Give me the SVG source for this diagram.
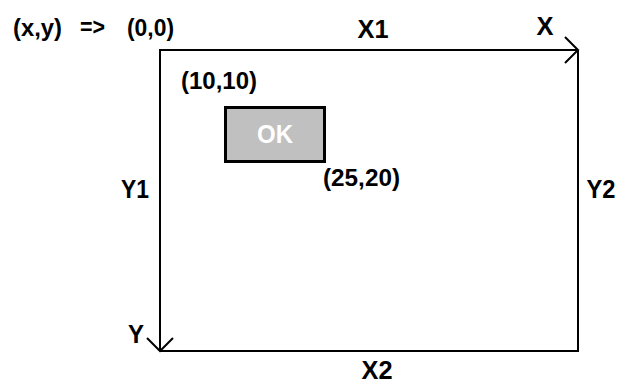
<svg xmlns="http://www.w3.org/2000/svg" width="621" height="382" viewBox="0 0 621 382">
<style>
.t{font-family:"Liberation Sans",Arial,sans-serif;font-weight:bold;font-size:23px;fill:#000}
.ax{font-size:26px}
.ln{stroke:#000;stroke-width:2;fill:none}
</style>
<defs>
<marker id="arr" markerUnits="userSpaceOnUse" viewBox="0 0 16 30" refX="14" refY="14" markerWidth="16" markerHeight="30" orient="auto">
<path d="M1,1 L14,14 L1,27" fill="none" stroke="#000" stroke-width="2"/>
</marker>
</defs>
<rect width="621" height="382" fill="#fff"/>
<g id="connectors">
<line class="ln" x1="578" y1="50" x2="578" y2="351"/>
<line class="ln" x1="160" y1="351" x2="579" y2="351"/>
<line class="ln" x1="159" y1="50" x2="578" y2="50" marker-end="url(#arr)"/>
<line class="ln" x1="160" y1="50" x2="160" y2="351" marker-end="url(#arr)"/>
</g>
<g id="ok-button">
<rect x="225.5" y="107.5" width="99" height="54" fill="#c0c0c0" stroke="#000" stroke-width="3"/>
<text class="t" x="275" y="143" text-anchor="middle" textLength="36" lengthAdjust="spacingAndGlyphs" style="fill:#fff;font-size:25px">OK</text>
</g>
<g id="labels">
<text class="t" x="13" y="36" textLength="49" lengthAdjust="spacingAndGlyphs">(x,y)</text>
<text class="t" x="80" y="35" textLength="25" lengthAdjust="spacingAndGlyphs">=&gt;</text>
<text class="t" x="127" y="36" textLength="47" lengthAdjust="spacingAndGlyphs">(0,0)</text>
<text class="t ax" x="373" y="38" text-anchor="middle" textLength="31" lengthAdjust="spacingAndGlyphs">X1</text>
<text class="t ax" x="545" y="35" text-anchor="middle" textLength="17" lengthAdjust="spacingAndGlyphs">X</text>
<text class="t" x="181" y="89" textLength="76" lengthAdjust="spacingAndGlyphs">(10,10)</text>
<text class="t" x="323" y="186" textLength="77" lengthAdjust="spacingAndGlyphs">(25,20)</text>
<text class="t ax" x="135" y="198" text-anchor="middle" textLength="28" lengthAdjust="spacingAndGlyphs">Y1</text>
<text class="t ax" x="601" y="198" text-anchor="middle" textLength="29" lengthAdjust="spacingAndGlyphs">Y2</text>
<text class="t ax" x="136" y="343" text-anchor="middle" textLength="16" lengthAdjust="spacingAndGlyphs">Y</text>
<text class="t ax" x="377" y="379" text-anchor="middle" textLength="31" lengthAdjust="spacingAndGlyphs">X2</text>
</g>
</svg>
